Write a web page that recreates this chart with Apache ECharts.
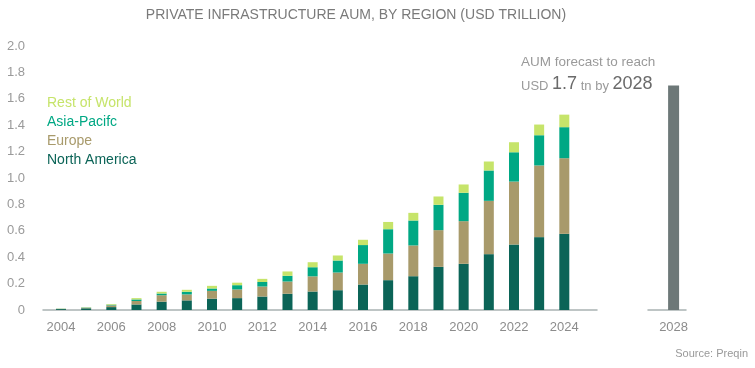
<!DOCTYPE html>
<html>
<head>
<meta charset="utf-8">
<script src="https://cdn.jsdelivr.net/npm/echarts@6/dist/echarts.min.js"></script>
<style>html,body{margin:0;padding:0;background:#fff}#c{width:755px;height:368px}</style>
</head>
<body>
<div id="c"></div>
<script>
const years = ['2004','2005','2006','2007','2008','2009','2010','2011','2012','2013','2014','2015','2016','2017','2018','2019','2020','2021','2022','2023','2024'];
const northAmerica = [0.007,0.013,0.022,0.042,0.063,0.073,0.086,0.090,0.102,0.123,0.140,0.150,0.193,0.226,0.256,0.327,0.350,0.423,0.496,0.552,0.577];
const europe       = [0.002,0.004,0.013,0.026,0.049,0.045,0.059,0.066,0.076,0.093,0.115,0.134,0.157,0.202,0.233,0.278,0.323,0.404,0.477,0.543,0.573];
const asiaPacific  = [0.001,0.002,0.005,0.012,0.013,0.020,0.018,0.032,0.034,0.043,0.069,0.091,0.142,0.184,0.189,0.192,0.215,0.230,0.222,0.229,0.235];
const restOfWorld  = [0.001,0.002,0.005,0.010,0.013,0.015,0.020,0.019,0.024,0.033,0.038,0.038,0.040,0.055,0.058,0.063,0.063,0.068,0.076,0.081,0.095];
const forecastYear = ['2028'];
const forecastValue = [1.7];

const FONT = "'Liberation Sans', Arial, sans-serif";
const colors = {na:'#0b6457', eu:'#a89a6b', ap:'#00a884', row:'#c6e46a', fc:'#6d7878'};
const axisLineStyle = {color:'#a9b2b2', width:1.5};

const chart = echarts.init(document.getElementById('c'), null, {renderer:'canvas'});
const barBase = {type:'bar', stack:'total', barWidth:10, xAxisIndex:0, yAxisIndex:0};
chart.setOption({
  animation:false,
  textStyle:{fontFamily:FONT},
  title:{
    text:'PRIVATE INFRASTRUCTURE AUM, BY REGION (USD TRILLION)',
    left:351, top:3, textAlign:'center',
    textStyle:{fontSize:14, fontWeight:'normal', color:'#7a7a7a', fontFamily:FONT}
  },
  legend:{
    orient:'vertical', left:37, top:91, itemWidth:0, itemHeight:14, itemGap:5, icon:'none',
    selectedMode:false,
    textStyle:{fontSize:14, fontFamily:FONT},
    data:[
      {name:'Rest of World', textStyle:{color:colors.row}},
      {name:'Asia-Pacifc', textStyle:{color:colors.ap}},
      {name:'Europe', textStyle:{color:colors.eu}},
      {name:'North America', textStyle:{color:colors.na}}
    ]
  },
  grid:[
    {left:48.4, width:528.5, top:46, bottom:58},   // bars 2004-2024
    {left:661, width:25.2, top:46, bottom:58},     // 2028 bar
    {left:43, width:554, top:46, bottom:58},       // baseline of main chart
    {left:648, width:38, top:46, bottom:58}        // baseline of forecast
  ],
  xAxis:[
    {type:'category', gridIndex:0, data:years,
     axisLine:{show:false}, axisTick:{show:false}, splitLine:{show:false},
     axisLabel:{interval:1, color:'#8c8c8c', fontSize:13, margin:11, fontFamily:FONT}},
    {type:'category', gridIndex:1, data:forecastYear,
     axisLine:{show:false}, axisTick:{show:false}, splitLine:{show:false},
     axisLabel:{color:'#8c8c8c', fontSize:13, margin:11, fontFamily:FONT}},
    {type:'value', gridIndex:2, min:0, max:1,
     axisLine:{show:true, lineStyle:axisLineStyle}, axisTick:{show:false}, splitLine:{show:false}, axisLabel:{show:false}},
    {type:'value', gridIndex:3, min:0, max:1,
     axisLine:{show:true, lineStyle:axisLineStyle}, axisTick:{show:false}, splitLine:{show:false}, axisLabel:{show:false}}
  ],
  yAxis:[
    {type:'value', gridIndex:0, min:0, max:2, interval:0.2,
     axisLine:{show:false}, axisTick:{show:false}, splitLine:{show:false},
     axisLabel:{formatter:v=>v===0?'0':v.toFixed(1), color:'#9a9a9a', fontSize:13, margin:23.4, fontFamily:FONT}},
    {type:'value', gridIndex:1, min:0, max:2, show:false},
    {type:'value', gridIndex:2, min:0, max:2, show:false},
    {type:'value', gridIndex:3, min:0, max:2, show:false}
  ],
  series:[
    Object.assign({}, barBase, {name:'North America', itemStyle:{color:colors.na}, data:northAmerica}),
    Object.assign({}, barBase, {name:'Europe', itemStyle:{color:colors.eu}, data:europe}),
    Object.assign({}, barBase, {name:'Asia-Pacifc', itemStyle:{color:colors.ap}, data:asiaPacific}),
    Object.assign({}, barBase, {name:'Rest of World', itemStyle:{color:colors.row}, data:restOfWorld}),
    {type:'bar', name:'Forecast', xAxisIndex:1, yAxisIndex:1, barWidth:11, itemStyle:{color:colors.fc},
     data:forecastValue}
  ],
  graphic:[
    {type:'text', left:521, top:55, style:{
      text:'{a|AUM forecast to reach}\n{s|USD }{b|' + forecastValue[0].toFixed(1) + '}{s| tn by }{b|' + forecastYear[0] + '}',
      rich:{
        a:{fontSize:13.5, fill:'#9a9a9a', fontFamily:FONT, lineHeight:18},
        s:{fontSize:13, fill:'#9a9a9a', fontFamily:FONT, lineHeight:22, verticalAlign:'bottom'},
        b:{fontSize:18, fill:'#6a6a6a', fontFamily:FONT, lineHeight:22, verticalAlign:'bottom'}
      }
    }},
    {type:'text', right:7, top:348, style:{text:'Source: Preqin', fontSize:11, fill:'#999', fontFamily:FONT}}
  ]
});
</script>
</body>
</html>
